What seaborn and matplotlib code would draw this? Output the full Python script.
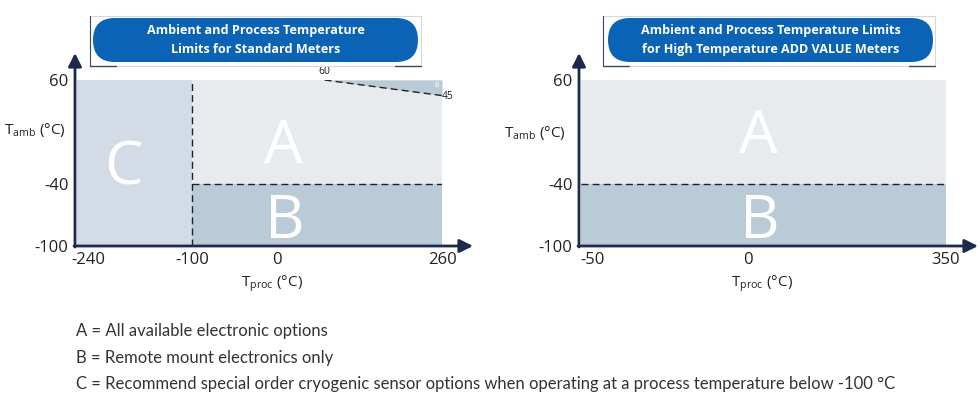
import numpy as np
import matplotlib
matplotlib.use("Agg")
import matplotlib.pyplot as plt
import seaborn as sns
from matplotlib.patches import FancyBboxPatch, FancyArrowPatch
from matplotlib.transforms import ScaledTranslation

# ---------------- data ----------------
std_x_ticks = [-240, -100, 0, 260]
std_y_ticks = [-100, -40, 60]
std_cryo_limit = -100          # C region below this process temperature
std_remote_limit = -40         # B region below this ambient temperature
std_proc_range = [-240, 260]
amb_range = [-100, 60]
derate_x = [75, 260]           # derating line (process temp)
derate_y = [60, 45]            # derating line (ambient temp)

hi_x_ticks = [-50, 0, 350]
hi_y_ticks = [-100, -40, 60]
hi_proc_range = [-50, 350]
hi_remote_limit = -40

title_std = "Ambient and Process Temperature\nLimits for Standard Meters"
title_hi = "Ambient and Process Temperature Limits\nfor High Temperature ADD VALUE Meters"
legend_lines = [
    "A = All available electronic options",
    "B = Remote mount electronics only",
    "C = Recommend special order cryogenic sensor options when operating at a process temperature below -100 \u00b0C",
]

# ---------------- style ----------------
sns.set_theme(style="white")
plt.rcParams["font.family"] = ["Open Sans", "DejaVu Sans"]
plt.rcParams["mathtext.fontset"] = "custom"
plt.rcParams["mathtext.rm"] = "Open Sans"

COL_A = "#e8ebee"
COL_B = "#b8cbd7"
COL_C = "#d3dbe7"
NAVY = "#1b2a4e"
BLUE = "#0b63b6"
TXT = "#222222"

W, H = 980, 399
fig = plt.figure(figsize=(W / 100, H / 100), dpi=100)


def px_axes(x0, x1, y_top, y_bot):
    return fig.add_axes([x0 / W, 1 - y_bot / H, (x1 - x0) / W, (y_bot - y_top) / H])


def piecewise(ticks, px):
    return (lambda v: np.interp(v, ticks, px)), (lambda p: np.interp(p, px, ticks))


# schematic (non-linear) axis positions of the printed tick values
std_tick_px = [77, 192, 277, 442]
hi_tick_px = [581, 748, 946]

dash = dict(color="#222222", lw=1.0, dashes=(5, 3), estimator=None, sort=False)

# ---------------- left chart ----------------
axL = px_axes(77, 442, 80, 246)
f, i = piecewise(std_x_ticks, std_tick_px)
axL.set_xscale("function", functions=(f, i))
axL.set_xlim(*std_proc_range)
axL.set_ylim(*amb_range)

axL.fill_between([std_proc_range[0], std_cryo_limit], amb_range[0], amb_range[1], color=COL_C, lw=0)
axL.fill_between([std_cryo_limit, std_proc_range[1]], std_remote_limit, amb_range[1], color=COL_A, lw=0)
axL.fill_between([std_cryo_limit, std_proc_range[1]], amb_range[0], std_remote_limit, color=COL_B, lw=0)
axL.fill_between(derate_x, derate_y, amb_range[1], color=COL_B, lw=0)

sns.lineplot(x=[std_cryo_limit, std_cryo_limit], y=amb_range, ax=axL, **dash)
sns.lineplot(x=[std_cryo_limit, std_proc_range[1]], y=[std_remote_limit, std_remote_limit], ax=axL, **dash)
sns.lineplot(x=derate_x, y=derate_y, ax=axL, **dash)

axL.text(derate_x[0], derate_y[0] + 3, str(derate_y[0]), fontsize=7.5, ha="center", va="bottom", color=TXT)
axL.text(derate_x[1] + 4, derate_y[1] - 1, str(derate_y[1]), fontsize=7.5, ha="left", va="center", color=TXT)
axL.text(252, 55, "B", fontsize=5, color="white", ha="center", va="center")

axL.text(9.5, -20, "A", fontsize=44, color="white", ha="center", va="baseline")
axL.text(-184, -41, "C", fontsize=44, color="white", ha="center", va="baseline")
axL.text(12.5, -92, "B", fontsize=44, color="white", ha="center", va="baseline")

# ---------------- right chart ----------------
axR = px_axes(581, 946, 80, 246)
f2, i2 = piecewise(hi_x_ticks, hi_tick_px)
axR.set_xscale("function", functions=(f2, i2))
axR.set_xlim(*hi_proc_range)
axR.set_ylim(*amb_range)

axR.fill_between(hi_proc_range, hi_remote_limit, amb_range[1], color=COL_A, lw=0)
axR.fill_between(hi_proc_range, amb_range[0], hi_remote_limit, color=COL_B, lw=0)
sns.lineplot(x=hi_proc_range, y=[hi_remote_limit, hi_remote_limit], ax=axR, **dash)

axR.text(17.5, -10.5, "A", fontsize=44, color="white", ha="center", va="baseline")
axR.text(21, -92, "B", fontsize=44, color="white", ha="center", va="baseline")

# ---------------- axes cosmetics ----------------
for ax, xt, yt, xl, yl in [
    (axL, std_x_ticks, std_y_ticks, (0.534, -0.225), (-0.115, 0.70)),
    (axR, hi_x_ticks, hi_y_ticks, (0.496, -0.225), (-0.125, 0.68)),
]:
    for s in ax.spines.values():
        s.set_visible(False)
    ax.set_facecolor("none")
    ax.set_xticks(xt)
    ax.set_xticklabels([str(v) for v in xt])
    ax.set_yticks(yt)
    ax.set_yticklabels([str(v) for v in yt])
    ax.tick_params(axis="both", length=0, labelsize=12, colors=TXT)
    ax.tick_params(axis="x", pad=4)
    ax.tick_params(axis="y", pad=6)
    ax.set_xlabel("T$_{\\mathrm{proc}}$ (\u00b0C)", fontsize=11, color=TXT)
    ax.set_ylabel("T$_{\\mathrm{amb}}$ (\u00b0C)", fontsize=11, color=TXT, rotation=0)
    ax.xaxis.set_label_coords(*xl)
    ax.yaxis.set_label_coords(*yl)
    ax.xaxis.label.set_va("center")
    ax.yaxis.label.set_va("center")
    ax.yaxis.label.set_ha("center")

# first x tick label of each chart sits slightly right of the axis origin
for ax, dx in [(axL, 11), (axR, 12)]:
    lab = ax.get_xticklabels()[0]
    lab.set_transform(lab.get_transform() + ScaledTranslation(dx / 100, 0, fig.dpi_scale_trans))

# ---------------- overlay (pixel coordinates) ----------------
ov = fig.add_axes([0, 0, 1, 1], zorder=5)
ov.set_xlim(0, W)
ov.set_ylim(H, 0)
ov.axis("off")
ov.patch.set_alpha(0)

# axis arrows
for (x0, x1) in [(75, 473), (579, 978)]:
    ov.add_patch(FancyArrowPatch((x0 - 1, 246), (x1, 246), arrowstyle="-|>", mutation_scale=20,
                                 lw=2, color=NAVY, shrinkA=0, shrinkB=0))
    ov.add_patch(FancyArrowPatch((x0, 247), (x0, 53), arrowstyle="-|>", mutation_scale=20,
                                 lw=2, color=NAVY, shrinkA=0, shrinkB=0))

# banners
for (fx0, fx1, px0, px1, title) in [(90, 421, 93, 418, title_std), (603, 935, 608, 933, title_hi)]:
    ov.plot([fx0, fx1, fx1, fx0, fx0], [16, 16, 66, 66, 16], color="#d3d8df", lw=0.8)
    ov.plot([fx0, fx0 + 26], [66, 66], color="#3a4a66", lw=1.0)
    ov.plot([fx1 - 26, fx1], [66, 66], color="#3a4a66", lw=1.0)
    ov.plot([fx0, fx0], [16, 66], color="#3a4a66", lw=0.8)
    ov.add_patch(FancyBboxPatch((px0, 18), px1 - px0, 44, boxstyle="round,pad=0,rounding_size=22",
                                fc=BLUE, ec="none"))
    ov.text((px0 + px1) / 2, 40, title, color="white", fontsize=9.1, fontweight="bold",
            ha="center", va="center", linespacing=1.6)

# legend text
for k, line in enumerate(legend_lines):
    ov.text(76, 331 + 26.5 * k, line, fontsize=12, color="#333333", ha="left", va="center",
            family=["Lato", "DejaVu Sans"])

fig.savefig("out.png", dpi=100, facecolor="white")
